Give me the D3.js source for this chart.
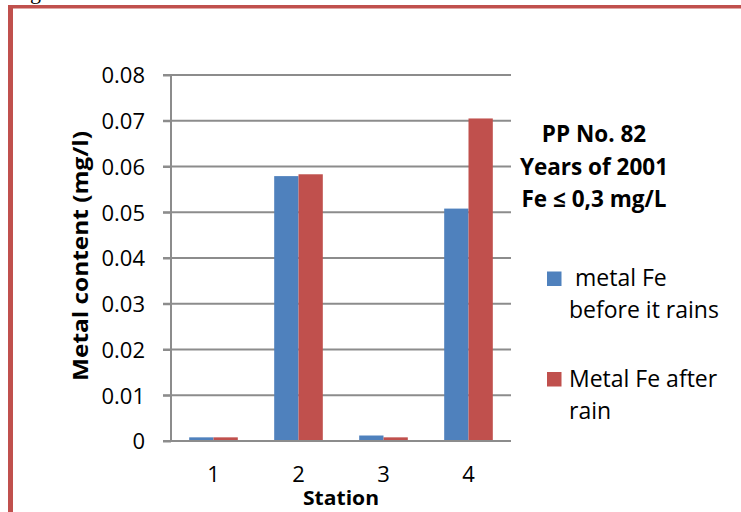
<!DOCTYPE html>
<html>
<head>
<meta charset="utf-8">
<script src="https://cdn.jsdelivr.net/npm/d3@7/dist/d3.min.js"></script>
<style>
  html, body { margin: 0; padding: 0; background: #fff; }
  svg { display: block; }
</style>
</head>
<body>
<svg id="chart" width="741" height="512"></svg>
<script>
const stations = ["1", "2", "3", "4"];
const seriesNames = [" metal Fe before it rains", "Metal Fe after rain"];
const beforeRain = [0.0008, 0.0579, 0.0012, 0.0508];
const afterRain = [0.0008, 0.0583, 0.0008, 0.0705];
const yTicks = [0, 0.01, 0.02, 0.03, 0.04, 0.05, 0.06, 0.07, 0.08];
const yTickLabels = ["0", "0.01", "0.02", "0.03", "0.04", "0.05", "0.06", "0.07", "0.08"];
const noteLines = ["PP No. 82", "Years of 2001", "Fe \u2264 0,3 mg/L"];
const colors = ["#4f81bd", "#c0504d"];

(function () {
const svg = d3.select("#chart");
const font = "'Open Sans', 'DejaVu Sans', sans-serif";

// frame
svg.append("text").attr("x", 30).attr("y", -1).attr("font-family", "'Liberation Serif', serif")
  .attr("font-size", 22).attr("fill", "#000").text("g");
svg.append("rect").attr("x", 8).attr("y", 5).attr("width", 5).attr("height", 520).attr("fill", "#c0504d");
svg.append("rect").attr("x", 8).attr("y", 5).attr("width", 740).attr("height", 3.5).attr("fill", "#c0504d");

const pLeft = 171, pRight = 511, pTop = 75, pBottom = 441;

const y = d3.scaleLinear().domain([0, 0.08]).range([pBottom, pTop]);
const x0 = d3.scaleBand().domain(stations).range([pLeft, pRight]).paddingInner(0.428).paddingOuter(0.214);
const x1 = d3.scaleBand().domain([0, 1]).range([0, x0.bandwidth()]);
const xc = d3.scaleBand().domain(stations).range([pLeft, pRight]);

// gridlines
svg.append("g").selectAll("line").data(yTicks.slice(1)).join("line")
  .attr("x1", pLeft - 8).attr("x2", pRight)
  .attr("y1", d => y(d)).attr("y2", d => y(d))
  .attr("stroke", "#8c8c8c").attr("stroke-width", 2);

// y axis
const yAxis = d3.axisLeft(y).tickValues(yTicks).tickSize(8).tickFormat((d, i) => yTickLabels[i]);
const gy = svg.append("g").attr("transform", `translate(${pLeft},0)`).call(yAxis);
gy.select(".domain").attr("stroke", "#8c8c8c").attr("stroke-width", 2).attr("d", `M0,${pTop}V${pBottom}`);
gy.selectAll(".tick line").attr("stroke", "#8c8c8c").attr("stroke-width", 2);
gy.selectAll(".tick text").attr("font-family", font).attr("font-size", 22).attr("fill", "#000")
  .attr("x", -26).attr("dy", "0.36em");

// bars
const data = stations.map((s, i) => ({ s, vals: [beforeRain[i], afterRain[i]] }));
const groups = svg.append("g").selectAll("g").data(data).join("g")
  .attr("transform", d => `translate(${x0(d.s)},0)`);
groups.selectAll("rect").data(d => d.vals.map((v, k) => ({ v, k }))).join("rect")
  .attr("x", d => x1(d.k)).attr("width", x1.bandwidth())
  .attr("y", d => y(d.v)).attr("height", d => y(0) - y(d.v))
  .attr("fill", d => colors[d.k]);

// x axis
const xAxis = d3.axisBottom(xc).tickSize(0).tickPadding(0);
const gx = svg.append("g").attr("transform", `translate(0,${pBottom})`).call(xAxis);
gx.select(".domain").attr("stroke", "#8c8c8c").attr("stroke-width", 2).attr("d", `M${pLeft - 8},0H${pRight}`);
gx.selectAll(".tick text").attr("font-family", font).attr("font-size", 22).attr("fill", "#000")
  .attr("y", 41).attr("dy", 0);

// axis titles
svg.append("text").attr("transform", "translate(88,256) rotate(-90)").attr("text-anchor", "middle")
  .attr("font-family", font).attr("font-weight", "bold").attr("font-size", 22).attr("fill", "#000")
  .attr("textLength", 250).attr("lengthAdjust", "spacingAndGlyphs")
  .text("Metal content (mg/l)");
svg.append("text").attr("x", 341).attr("y", 505).attr("text-anchor", "middle")
  .attr("font-family", font).attr("font-weight", "bold").attr("font-size", 20).attr("fill", "#000")
  .attr("textLength", 76).attr("lengthAdjust", "spacingAndGlyphs")
  .text("Station");

// note
svg.append("g").selectAll("text").data(noteLines).join("text")
  .attr("x", 594).attr("y", (d, i) => 142 + i * 32.5).attr("text-anchor", "middle")
  .attr("font-family", font).attr("font-weight", "bold").attr("font-size", 22.5).attr("fill", "#000")
  .text(d => d);

// legend
const legendLines = [[" metal Fe", "before it rains"], ["Metal Fe after", "rain"]];
const lg = svg.append("g").selectAll("g").data(seriesNames).join("g")
  .attr("transform", (d, i) => `translate(0,${i * 100.5})`);
lg.append("rect").attr("x", 547).attr("y", 271.5).attr("width", 14.5).attr("height", 14.5)
  .attr("fill", (d, i) => colors[i]);
lg.each(function (d, i) {
  const t = d3.select(this).append("text").attr("font-family", font).attr("font-size", 23).attr("fill", "#000");
  legendLines[i].forEach((ln, j) => {
    t.append("tspan").attr("x", 569).attr("y", 286 + j * 32.3).attr("xml:space", "preserve").text(ln);
  });
});
})();
</script>
</body>
</html>
